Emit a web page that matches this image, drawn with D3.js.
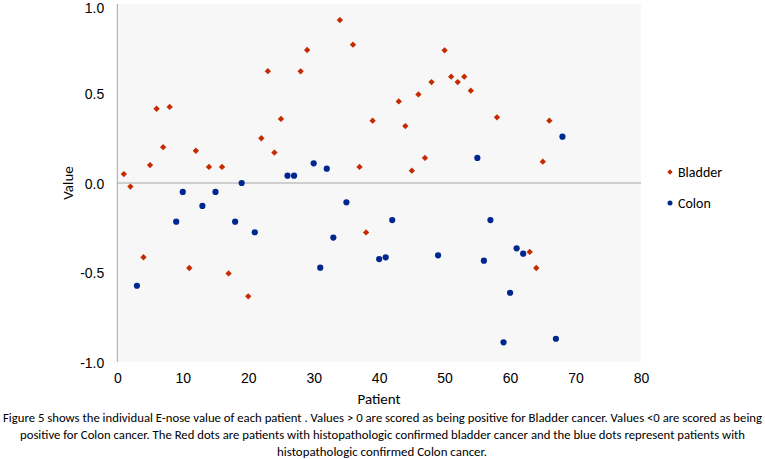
<!DOCTYPE html>
<html><head><meta charset="utf-8">
<script src="https://cdn.jsdelivr.net/npm/d3@7"></script>
<style>body{margin:0;background:#fff;} svg{display:block;font-family:Carlito,Calibri,Lato,'Open Sans',sans-serif;}</style>
</head><body><svg id="c" width="765" height="459"></svg>
<script>
const bladderPatients = [1,2,4,5,6,7,8,11,12,14,16,17,20,22,23,24,25,28,29,34,36,37,38,39,43,44,45,46,47,48,50,51,52,53,54,58,63,64,65,66];
const bladderValues  = [0.05,-0.02,-0.415,0.10,0.415,0.20,0.425,-0.475,0.18,0.09,0.09,-0.505,-0.633,0.25,0.625,0.17,0.358,0.624,0.743,0.91,0.773,0.09,-0.276,0.348,0.456,0.318,0.069,0.495,0.14,0.564,0.741,0.594,0.564,0.594,0.516,0.367,-0.385,-0.475,0.119,0.348];
const colonPatients = [3,9,10,13,15,18,19,21,26,27,30,31,32,33,35,40,41,42,49,55,56,57,59,60,61,62,67,68];
const colonValues   = [-0.574,-0.216,-0.05,-0.128,-0.05,-0.216,0.0,-0.275,0.041,0.041,0.11,-0.473,0.08,-0.305,-0.108,-0.425,-0.415,-0.207,-0.404,0.14,-0.434,-0.207,-0.89,-0.613,-0.365,-0.395,-0.87,0.259];
const xTicks = [0,10,20,30,40,50,60,70,80];
const yTicks = [1.0,0.5,0.0,-0.5,-1.0];
const seriesNames = ["Bladder","Colon"];
const captionLines = [
 "Figure 5  shows the individual E-nose value of each patient . Values  > 0 are scored as being positive for Bladder cancer. Values  <0 are scored as being",
 "positive for Colon cancer. The Red dots are patients with histopathologic confirmed bladder cancer and the blue dots represent patients with",
 "histopathologic confirmed Colon cancer."
];

const svg = d3.select("#c");
const x = d3.scaleLinear().domain([0,80]).range([117.3,641]);
const y = d3.scaleLinear().domain([-1,1]).range([362,4]);
const RED = "#c52a00", BLUE = "#00268f";

svg.append("rect").attr("x",x(0)).attr("y",y(1)).attr("width",x(80)-x(0)).attr("height",y(-1)-y(1)).attr("fill","#f7f7f7");
svg.append("line").attr("x1",x(0)).attr("x2",x(80)).attr("y1",y(0)).attr("y2",y(0)).attr("stroke","#a6a6a6").attr("stroke-width",1);
svg.append("line").attr("x1",x(0)).attr("x2",x(0)).attr("y1",y(1)).attr("y2",y(-1)).attr("stroke","#a6a6a6").attr("stroke-width",1);

// axes via d3
const yAxis = d3.axisLeft(y).tickValues(yTicks).tickFormat(d=>d3.format(".1f")(d).replace("−","-")).tickSize(0).tickPadding(13);
const gy = svg.append("g").attr("transform",`translate(${x(0)},0)`).call(yAxis);
gy.select(".domain").remove();
gy.selectAll("text").attr("font-size",14).attr("fill","#000").attr("font-family","inherit")
  .attr("dy", d => d===1 ? "0.62em" : "0.38em");

const xAxis = d3.axisBottom(x).tickValues(xTicks).tickSize(0).tickPadding(11);
const gx = svg.append("g").attr("transform",`translate(0,${y(-1)})`).call(xAxis);
gx.select(".domain").remove();
gx.selectAll("text").attr("font-size",14).attr("fill","#000").attr("font-family","inherit");

svg.append("text").attr("x",379).attr("y",404).attr("text-anchor","middle").attr("font-size",15).text("Patient");
svg.append("text").attr("transform","translate(73,183) rotate(-90)").attr("text-anchor","middle").attr("font-size",15).text("Value");

// points
const diamond = d3.symbol().type(d3.symbolSquare).size(20);
svg.append("g").selectAll("path").data(bladderPatients.map((p,i)=>[p,bladderValues[i]])).join("path")
  .attr("d",diamond).attr("transform",d=>`translate(${x(d[0])},${y(d[1])}) rotate(45)`).attr("fill",RED);
svg.append("g").selectAll("circle").data(colonPatients.map((p,i)=>[p,colonValues[i]])).join("circle")
  .attr("cx",d=>x(d[0])).attr("cy",d=>y(d[1])).attr("r",3.1).attr("fill",BLUE);

// legend
const lg = svg.append("g");
lg.append("path").attr("d",d3.symbol().type(d3.symbolSquare).size(14)).attr("transform","translate(670,172) rotate(45)").attr("fill",RED);
lg.append("circle").attr("cx",670).attr("cy",203).attr("r",2.5).attr("fill",BLUE);
lg.append("text").attr("x",678).attr("y",177).attr("font-size",14).text(seriesNames[0]);
lg.append("text").attr("x",678).attr("y",208).attr("font-size",14).text(seriesNames[1]);

// caption
const capY = [422,439,456];
const capX = [[3,762],[20,745],[277,487]];
captionLines.forEach((t,i)=>{
  svg.append("text").attr("x",(capX[i][0]+capX[i][1])/2).attr("y",capY[i]).attr("text-anchor","middle")
    .attr("font-size",12.5).attr("textLength",capX[i][1]-capX[i][0]).attr("lengthAdjust","spacingAndGlyphs").text(t);
});
</script></body></html>
